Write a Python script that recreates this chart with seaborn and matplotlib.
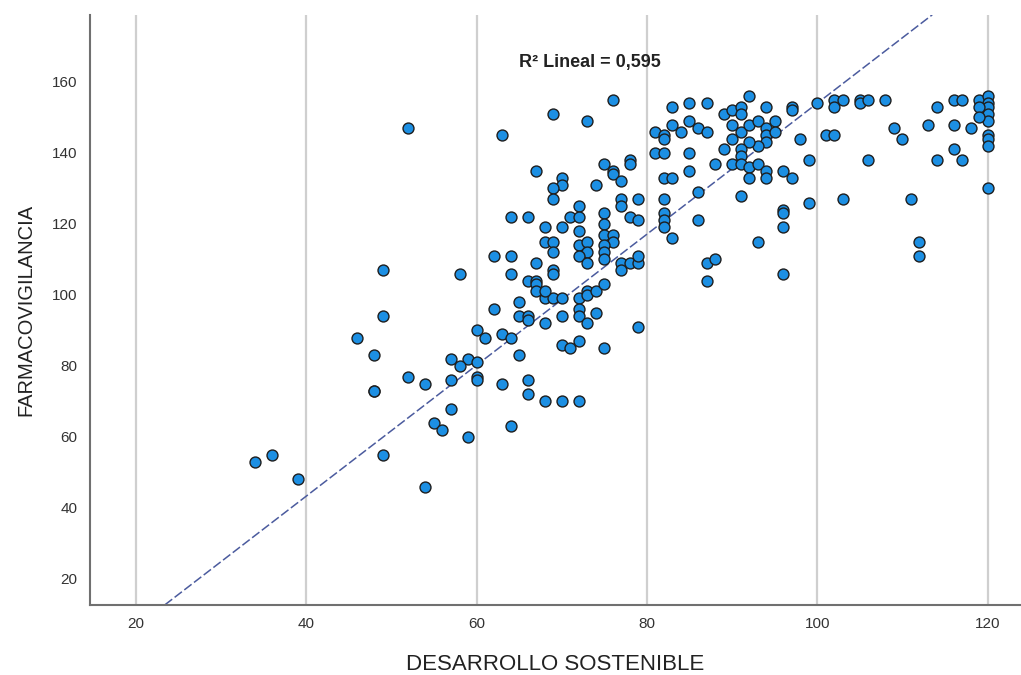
import matplotlib
matplotlib.use("Agg")
import matplotlib.pyplot as plt
import seaborn as sns
import pandas as pd

# ── Data ──────────────────────────────────────────────────────────
desarrollo = [
    # left / sparse region
    49, 46, 48, 52, 54, 48, 48, 55, 56, 36, 34, 39, 49, 54, 52, 49,
    # 57-79 lower band
    68, 69, 70, 72, 65, 62, 65, 66, 66, 68, 70, 72, 72, 73, 74, 60,
    61, 63, 64, 70, 71, 72, 75, 65, 57, 59, 58, 60, 60, 60, 57, 63,
    66, 66, 68, 70, 72, 57, 59, 64, 79,
    # 60-77 upper band
    76, 69, 73, 63, 67, 75, 76, 76, 77, 70, 70, 69, 74, 69, 77, 77,
    72, 71, 72, 75, 75, 64, 66, 68, 70, 72, 68, 69, 69, 72, 73, 73,
    72, 73, 75, 76, 76, 75, 75, 75, 77, 77, 62, 64, 67, 64, 69, 69,
    58, 66, 67, 67, 67, 68, 73, 73, 74, 75,
    # 78-99
    83, 85, 87, 89, 90, 91, 91, 92, 94, 97, 97, 81, 82, 82, 83, 84,
    85, 86, 87, 90, 91, 92, 93, 94, 94, 95, 95, 94, 93, 92, 90, 89,
    88, 90, 91, 91, 91, 92, 92, 93, 94, 94, 96, 97, 98, 99, 99, 81,
    82, 85, 85, 82, 83, 86, 91, 82, 82, 82, 82, 86, 83, 96, 96, 96,
    93, 87, 88, 87, 96, 78, 78, 79, 78, 79, 78, 79, 79,
    # 100-120
    100, 102, 102, 103, 105, 105, 106, 108, 114, 116, 117, 119, 120, 120, 120, 120,
    120, 119, 119, 101, 102, 109, 110, 113, 116, 118, 120, 120, 120, 106, 114, 116,
    117, 120, 103, 111, 112, 112,
]
farmacovigilancia = [
    94, 88, 83, 77, 75, 73, 73, 64, 62, 55, 53, 48, 55, 46, 147, 107,
    99, 99, 99, 99, 98, 96, 94, 94, 93, 92, 94, 96, 94, 92, 95, 90,
    88, 89, 88, 86, 85, 87, 85, 83, 82, 82, 80, 81, 77, 76, 76, 75,
    76, 72, 70, 70, 70, 68, 60, 63, 91,
    155, 151, 149, 145, 135, 137, 135, 134, 132, 133, 131, 130, 131, 127, 127, 125,
    125, 122, 122, 123, 120, 122, 122, 119, 119, 118, 115, 115, 112, 114, 115, 112,
    111, 109, 117, 117, 115, 114, 112, 110, 109, 107, 111, 111, 109, 106, 107, 106,
    106, 104, 104, 103, 101, 101, 101, 100, 101, 103,
    153, 154, 154, 151, 152, 153, 151, 156, 153, 153, 152, 146, 145, 144, 148, 146,
    149, 147, 146, 148, 146, 148, 149, 147, 145, 149, 146, 143, 142, 143, 144, 141,
    137, 137, 141, 139, 137, 136, 133, 137, 135, 133, 135, 133, 144, 138, 126, 140,
    140, 140, 135, 133, 133, 129, 128, 127, 123, 121, 119, 121, 116, 124, 123, 119,
    115, 109, 110, 104, 106, 138, 137, 127, 122, 121, 109, 109, 111,
    154, 155, 153, 155, 155, 154, 155, 155, 153, 155, 155, 155, 156, 154, 153, 151,
    149, 153, 150, 145, 145, 147, 144, 148, 148, 147, 145, 144, 142, 138, 138, 141,
    138, 130, 127, 127, 115, 111,
]
fit_intercept = -30.5
fit_slope = 1.845
r2_label = "R² Lineal = 0,595"
x_ticks = [20, 40, 60, 80, 100, 120]
y_ticks = [20, 40, 60, 80, 100, 120, 140, 160]

df = pd.DataFrame({"DESARROLLO SOSTENIBLE": desarrollo,
                   "FARMACOVIGILANCIA": farmacovigilancia})

# ── Style ─────────────────────────────────────────────────────────
sns.set_theme(style="white")
plt.rcParams["font.family"] = ["Liberation Sans", "DejaVu Sans"]

fig = plt.figure(figsize=(10.21, 6.75), dpi=100)
ax = fig.add_axes([0.088, 0.104, 0.911, 0.874])

for xt in x_ticks:
    ax.axvline(xt, color="#cfcfcf", lw=1.6, zorder=0)

sns.scatterplot(data=df, x="DESARROLLO SOSTENIBLE", y="FARMACOVIGILANCIA",
                ax=ax, s=62, color="#1c8fe3", edgecolor="#1e1e1e",
                linewidth=1.0, zorder=3)
ax.axline((0, fit_intercept), slope=fit_slope, color="#4b5b9e", lw=1.1,
          ls=(0, (6, 2)), zorder=2)

ax.set_xlim(14.6, 123.8)
ax.set_ylim(12.7, 178.9)
ax.set_xticks(x_ticks)
ax.set_yticks(y_ticks)
ax.tick_params(length=0, labelsize=11, labelcolor="#333333", pad=9)

for side in ["top", "right"]:
    ax.spines[side].set_visible(False)
for side in ["left", "bottom"]:
    ax.spines[side].set_color("#707070")
    ax.spines[side].set_linewidth(1.5)

ax.set_xlabel("DESARROLLO SOSTENIBLE", fontsize=16, color="#222222", labelpad=16)
ax.set_ylabel("FARMACOVIGILANCIA", fontsize=14.5, color="#222222", labelpad=12)

ax.text(73.3, 165.6, r2_label, ha="center", va="center",
        fontsize=13, fontweight="bold", color="#222222")

fig.savefig("out.png", dpi=100)
